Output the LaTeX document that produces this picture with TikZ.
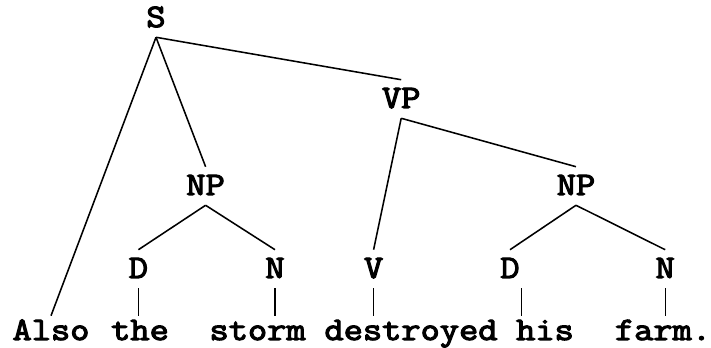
\documentclass[tikz,border=0pt]{standalone}
\usepackage{fontspec}
\setmonofont{Latin Modern Mono}[FakeStretch=1.14, AutoFakeBold=3.5]
\usepackage{tikz}

\begin{document}
\begin{tikzpicture}[
    cat/.style={font=\ttfamily\bfseries\fontsize{23.3}{28}\selectfont,
      anchor=base, inner xsep=0pt, inner ysep=0.25cm,
      text height=0.45cm, text depth=0pt},
    word/.style={cat, inner ysep=0.15cm},
    branch/.style={line width=1.1pt},
    leaf/.style={line width=0.8pt}]
    \useasboundingbox (0,0) rectangle (17.775,-8.7);
    % categories
    \node[cat] (S) at (3.9,-0.675) {S};
    \node[cat] (VP) at (10.03,-2.7) {VP};
    \node[cat] (NPsubj) at (5.14,-4.875) {NP};
    \node[cat] (NPobj) at (14.4,-4.875) {NP};
    \node[cat] (Dsubj) at (3.46,-6.95) {D};
    \node[cat] (Nsubj) at (6.875,-6.95) {N};
    \node[cat] (V) at (9.34,-6.95) {V};
    \node[cat] (Dobj) at (12.75,-6.95) {D};
    \node[cat] (Nobj) at (16.63,-6.95) {N};
    % words
    \node[word] (also) at (1.275,-8.5) {Also};
    \node[word] (the) at (3.5,-8.5) {the};
    \node[word] (storm) at (6.44,-8.5) {storm};
    \node[word] (destroyed) at (10.275,-8.5) {destroyed};
    \node[word] (his) at (13.625,-8.5) {his};
    \node[word] (farm) at (16.575,-8.5) {farm.};
    % branches
    \draw[branch] (S.south) -- (also.north);
    \draw[branch] (S.south) -- (NPsubj.north);
    \draw[branch] (S.south) -- (VP.north);
    \draw[branch] (NPsubj.south) -- (Dsubj.north);
    \draw[branch] (NPsubj.south) -- (Nsubj.north);
    \draw[branch] (VP.south) -- (V.north);
    \draw[branch] (VP.south) -- (NPobj.north);
    \draw[branch] (NPobj.south) -- (Dobj.north);
    \draw[branch] (NPobj.south) -- (Nobj.north);
    % leaves
    \draw[leaf] (Dsubj.south) -- (Dsubj.south |- the.north);
    \draw[leaf] (Nsubj.south) -- (Nsubj.south |- storm.north);
    \draw[leaf] (V.south) -- (V.south |- destroyed.north);
    \draw[leaf] ([xshift=0.28cm]Dobj.south) -- ([xshift=0.28cm]Dobj.south |- his.north);
    \draw[leaf] (Nobj.south) -- (Nobj.south |- farm.north);
  \end{tikzpicture}
\end{document}
